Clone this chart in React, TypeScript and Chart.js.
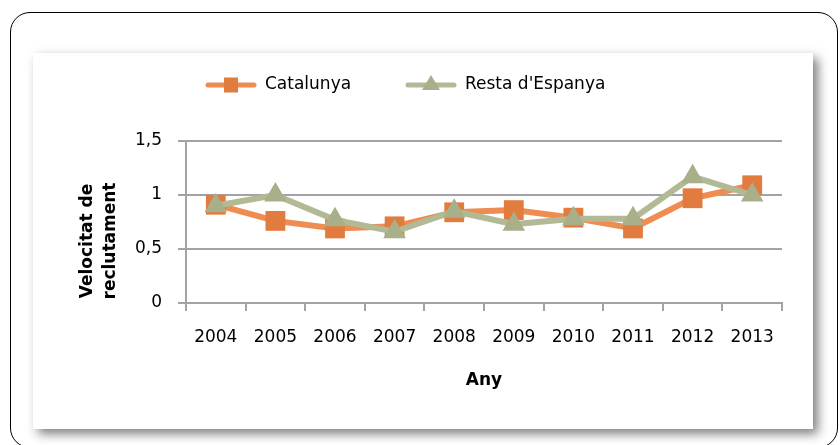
import React, { useEffect, useRef } from "react";
import { Chart, registerables } from "chart.js";

Chart.register(...registerables);

const YEARS = ["2004", "2005", "2006", "2007", "2008", "2009", "2010", "2011", "2012", "2013"];
const CATALUNYA = [0.91, 0.76, 0.69, 0.71, 0.84, 0.86, 0.79, 0.69, 0.97, 1.09];
const RESTA = [0.9, 1.0, 0.77, 0.66, 0.85, 0.73, 0.78, 0.78, 1.17, 1.0];
const SERIES_NAMES = ["Catalunya", "Resta d'Espanya"];
const Y_TITLE = ["Velocitat de", "reclutament"];
const X_TITLE = "Any";

const FONT = "'DejaVu Sans', sans-serif";
const ORANGE_LINE = "#EE8C52";
const ORANGE_MARK = "#E27B3E";
const GREEN_LINE = "#B1B995";
const GREEN_MARK = "#A8AF89";
const GRID = "#A3A3A7";

const decorPlugin = {
  id: "decor",
  afterDraw(chart: any) {
    const ctx = chart.ctx as CanvasRenderingContext2D;
    ctx.save();
    // legend
    const ly = 85;
    const items = [
      { x: 208, name: SERIES_NAMES[0], line: ORANGE_LINE, mark: ORANGE_MARK, shape: "rect" },
      { x: 408, name: SERIES_NAMES[1], line: GREEN_LINE, mark: GREEN_MARK, shape: "tri" },
    ];
    for (const it of items) {
      ctx.strokeStyle = it.line;
      ctx.lineWidth = 5;
      ctx.lineCap = "round";
      ctx.beginPath();
      ctx.moveTo(it.x, ly);
      ctx.lineTo(it.x + 46, ly);
      ctx.stroke();
      ctx.fillStyle = it.mark;
      const cx = it.x + 23;
      if (it.shape === "rect") {
        ctx.fillRect(cx - 7, ly - 7.5, 14, 15);
      } else {
        ctx.beginPath();
        ctx.moveTo(cx, ly - 10);
        ctx.lineTo(cx + 9, ly + 5);
        ctx.lineTo(cx - 9, ly + 5);
        ctx.closePath();
        ctx.fill();
      }
      ctx.fillStyle = "#000";
      ctx.font = `17px ${FONT}`;
      ctx.textAlign = "left";
      ctx.textBaseline = "middle";
      ctx.fillText(it.name, it.x + 57, ly);
    }
    // axis titles
    ctx.font = `bold 17px ${FONT}`;
    ctx.textAlign = "center";
    ctx.textBaseline = "middle";
    ctx.fillStyle = "#000";
    ctx.save();
    ctx.translate(88, 241);
    ctx.rotate(-Math.PI / 2);
    ctx.fillText(Y_TITLE[0], 0, 0);
    ctx.restore();
    ctx.save();
    ctx.translate(111, 241);
    ctx.rotate(-Math.PI / 2);
    ctx.fillText(Y_TITLE[1], 0, 0);
    ctx.restore();
    const ca = chart.chartArea;
    ctx.fillText(X_TITLE, (ca.left + ca.right) / 2, 381);
    ctx.restore();
  },
};

export default function App() {
  const ref = useRef<HTMLCanvasElement | null>(null);
  useEffect(() => {
    if (!ref.current) return;
    const chart = new Chart(ref.current, {
      type: "line",
      data: {
        labels: YEARS,
        datasets: [
          {
            label: SERIES_NAMES[0],
            data: CATALUNYA,
            borderColor: ORANGE_LINE,
            backgroundColor: ORANGE_MARK,
            borderWidth: 6,
            pointStyle: "rect",
            pointRadius: 14,
            pointBorderWidth: 0,
            pointBackgroundColor: ORANGE_MARK,
            order: 1,
            tension: 0,
          },
          {
            label: SERIES_NAMES[1],
            data: RESTA,
            borderColor: GREEN_LINE,
            backgroundColor: GREEN_MARK,
            borderWidth: 6,
            pointStyle: "triangle",
            pointRadius: 13,
            pointBorderWidth: 0,
            pointBackgroundColor: GREEN_MARK,
            order: 0,
            tension: 0,
          },
        ],
      },
      options: {
        animation: false,
        responsive: false,
        layout: { padding: { left: 100, top: 141, right: 58, bottom: 92 } },
        plugins: { legend: { display: false }, tooltip: { enabled: false }, title: { display: false } },
        scales: {
          x: {
            offset: true,
            grid: { display: true, drawOnChartArea: false, drawTicks: true, tickLength: 8, offset: true, color: GRID, lineWidth: 2 },
            border: { display: true, color: GRID, width: 2 },
            ticks: { color: "#000", font: { family: FONT, size: 17 }, padding: 16, maxRotation: 0, autoSkip: false },
            afterFit: (s: any) => { s.height = 50; },
          },
          y: {
            min: 0,
            max: 1.5,
            grid: { color: GRID, lineWidth: 2, drawTicks: true, tickLength: 8 },
            border: { display: true, color: GRID, width: 2 },
            ticks: {
              stepSize: 0.5,
              color: "#000",
              font: { family: FONT, size: 17 },
              padding: 16,
              callback: (v: any) => String(v).replace(".", ","),
            },
            afterFit: (s: any) => { s.width = 86; },
          },
        },
      },
      plugins: [decorPlugin],
    });
    return () => chart.destroy();
  }, []);

  return (
    <div style={{ position: "fixed", left: 0, top: 0, width: 840, height: 445, background: "#fff", overflow: "hidden" }}>
      <div style={{ position: "absolute", left: 10, top: 12, width: 828, height: 436, border: "1.5px solid #000", borderRadius: 20, boxSizing: "border-box" }} />
      <div style={{ position: "absolute", left: 33, top: 53, width: 780, height: 376, background: "#fff", boxShadow: "5px 5px 10px rgba(0,0,0,0.5)" }} />
      <canvas ref={ref} width={840} height={445} style={{ position: "absolute", left: 0, top: 0, width: 840, height: 445 }} />
    </div>
  );
}
